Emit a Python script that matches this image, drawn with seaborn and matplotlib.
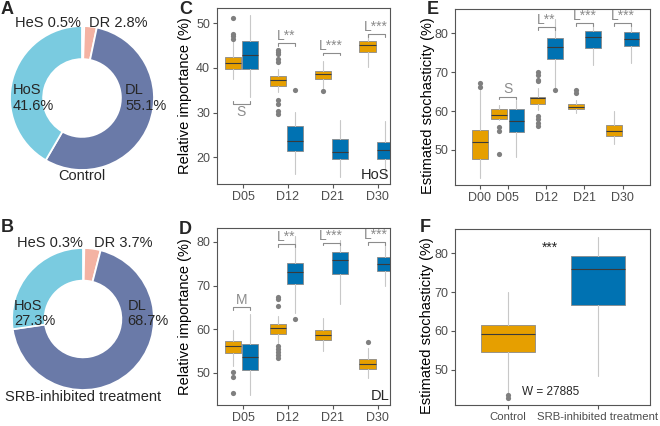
import matplotlib
matplotlib.use("Agg")
import numpy as np
import pandas as pd
import seaborn as sns
import matplotlib.pyplot as plt

# ---- data ----
parts = ["HeS", "DR", "DL", "HoS"]
part_colors = ["#F9D6CC", "#F4B3A3", "#6A7AA8", "#7ACBE0"]
control_share = [0.5, 2.8, 55.1, 41.6]
srb_share = [0.3, 3.7, 68.7, 27.3]

# boxes: [whisker low, q1, median, q3, whisker high]
imp_days = ["D05", "D12", "D21", "D30"]
hos_ctrl = [[37.4, 39.8, 41.1, 42.4, 46.0], [34.5, 36.0, 37.2, 38.2, 39.8],
            [35.5, 37.5, 38.7, 39.4, 41.6], [40.1, 43.5, 45.1, 46.1, 47.6]]
hos_ctrl_out = [[51.2, 47.6, 47.2, 46.5],
                [44.0, 43.5, 43.0, 42.0, 41.4, 32.7, 31.9, 30.4, 29.7], [34.8], []]
hos_srb = [[33.4, 39.8, 42.8, 46.0, 51.9], [16.3, 21.3, 23.6, 26.9, 30.1],
           [15.5, 19.6, 21.1, 24.0, 28.4], [15.5, 19.6, 21.5, 23.5, 28.2]]
hos_srb_out = [[], [35.1], [], []]
hos_sig = ["S", "L**", "L***", "L***"]

dl_ctrl = [[51.5, 54.6, 56.1, 57.3, 59.9], [56.9, 59.0, 60.2, 61.2, 63.0],
           [55.0, 57.6, 58.7, 59.9, 62.6], [48.7, 50.8, 52.1, 53.1, 55.7]]
dl_ctrl_out = [[50.2, 49.0, 45.4], [67.3, 66.8, 65.3, 56.1, 55.5, 54.7, 54.0, 53.4], [], [57.0]]
dl_srb = [[44.8, 50.6, 53.7, 56.6, 63.5], [63.7, 70.4, 73.1, 75.2, 81.3],
          [65.8, 72.7, 75.8, 77.7, 80.5], [69.8, 73.3, 75.0, 76.6, 79.5]]
dl_srb_out = [[], [62.4], [], []]
dl_sig = ["M", "L**", "L***", "L***"]

st_days = ["D00", "D05", "D12", "D21", "D30"]
st_ctrl = [[42.7, 47.6, 52.0, 55.0, 65.4], [57.7, 58.0, 59.0, 60.5, 61.6],
           [60.3, 61.7, 63.3, 63.7, 65.9], [59.4, 60.5, 61.1, 61.8, 62.9],
           [51.5, 53.6, 54.9, 56.3, 59.9]]
st_ctrl_out = [[67.1, 66.1], [56.0, 54.9, 48.9],
               [70.1, 69.3, 68.0, 67.6, 58.6, 58.0, 56.9, 56.2], [65.4, 64.7], []]
st_srb = [None, [48.3, 54.5, 57.5, 60.5, 62.9], [65.6, 73.3, 76.4, 78.7, 83.6],
          [71.9, 76.3, 78.9, 80.6, 82.1], [72.3, 76.7, 78.5, 80.4, 82.1]]
st_srb_out = [[], [], [65.3], [], []]
st_sig = [None, "S", "L**", "L***", "L***"]

groups = ["Control", "SRB-inhibited treatment"]
tr_stats = [[43.9, 54.5, 59.1, 61.5, 70.1], [48.4, 66.7, 76.1, 79.3, 84.3]]
tr_out = [[43.5, 42.6], []]
w_stat = 27885

ORANGE = "#E69F00"
BLUE = "#0072B2"
GREY_TXT = "#8C8C8C"

sns.set_theme(style="ticks")
plt.rcParams["font.family"] = ["Liberation Sans", "DejaVu Sans"]

W, H = 660, 426
fig = plt.figure(figsize=(W / 100, H / 100), dpi=100)


def px_axes(l, t, r, b):
    return fig.add_axes([l / W, 1 - b / H, (r - l) / W, (b - t) / H])


def donut(cx, cy, r, share, lab_pos, title, title_y):
    ax = px_axes(cx - 1.1 * r, cy - 1.1 * r, cx + 1.1 * r, cy + 1.1 * r)
    ax.pie(share, colors=part_colors, startangle=90, counterclock=False, radius=1,
           wedgeprops=dict(width=0.46, edgecolor="white", linewidth=1.3))
    ax.set_xlim(-1.1, 1.1)
    ax.set_ylim(-1.1, 1.1)
    ax.axis("off")
    (hx, hy), (dx, dy), (lx, ly), (ox, oy) = lab_pos
    kw = dict(fontsize=10.5, clip_on=False)
    ax.text(hx, hy, f"HeS {share[0]}%", ha="center", va="center", **kw)
    ax.text(dx, dy, f"DR {share[1]}%", ha="center", va="center", **kw)
    ax.text(lx, ly, f"DL\n{share[2]}%", ha="left", va="center", linespacing=1.1, **kw)
    ax.text(ox, oy, f"HoS\n{share[3]}%", ha="left", va="center", linespacing=1.1, **kw)
    ax.text(0, title_y, title, ha="center", va="center", **kw)


donut(82, 98, 72, control_share,
      [(-0.47, 1.04), (0.5, 1.04), (0.6, 0.0), (-0.96, 0.0)], "Control", -1.08)
donut(83, 319, 71, srb_share,
      [(-0.46, 1.07), (0.56, 1.07), (0.63, 0.08), (-0.97, 0.08)],
      "SRB-inhibited treatment", -1.1)


def style_axes(ax, ylim, xlim, ticks, ticklabels, ylabel):
    ax.set_ylim(*ylim)
    ax.set_xlim(*xlim)
    ax.set_xticks(ticks)
    ax.set_xticklabels(ticklabels)
    ax.set_yticks([20, 30, 40, 50] if ylim[1] < 60 else [50, 60, 70, 80])
    for s in ax.spines.values():
        s.set_visible(True)
        s.set_color("#555555")
        s.set_linewidth(0.8)
    ax.tick_params(length=3, width=0.8, color="#555555", labelcolor="#4D4D4D",
                   labelsize=9, pad=2)
    ax.set_xlabel("")
    ax.set_ylabel(ylabel, fontsize=10.5, color="black", labelpad=3)


def draw_boxes(ax, stats, pos, width, color, outliers):
    keep = [(s, p) for s, p in zip(stats, pos) if s is not None]
    st = [dict(whislo=s[0], q1=s[1], med=s[2], q3=s[3], whishi=s[4], fliers=[])
          for s, _ in keep]
    ax.bxp(st, positions=[p for _, p in keep], widths=width, patch_artist=True,
           showfliers=False, showcaps=False, manage_ticks=False,
           boxprops=dict(facecolor=color, edgecolor="#8A8A8A", linewidth=0.6),
           whiskerprops=dict(color="#C8C8C8", linewidth=0.8),
           medianprops=dict(color="#3A3A3A", linewidth=0.8))
    xs, ys = [], []
    for p, out in zip(pos, outliers):
        xs += [p] * len(out)
        ys += out
    if xs:
        sns.scatterplot(x=xs, y=ys, color="#7F7F7F", s=14, linewidth=0, ax=ax,
                        legend=False, zorder=3)


def bracket(ax, x1, x2, y, h, label, below=False):
    if below:
        ax.plot([x1, x1, x2, x2], [y + h, y, y, y + h], color=GREY_TXT, lw=0.8)
        ax.text((x1 + x2) / 2, y - h * 0.6, label, ha="center", va="top",
                color=GREY_TXT, fontsize=10)
    else:
        ax.plot([x1, x1, x2, x2], [y - h, y, y, y - h], color=GREY_TXT, lw=0.8)
        ax.text((x1 + x2) / 2, y + h * 0.05, label, ha="center", va="bottom",
                color=GREY_TXT, fontsize=10)


# ---- C and D: relative importance ----
imp_x = np.arange(len(imp_days))
for (l, t, r, b), ctrl, ctrl_out, srb, srb_out, sig, brk, ylim, name, letter in [
    ((217, 8, 390, 184), hos_ctrl, hos_ctrl_out, hos_srb, hos_srb_out, hos_sig,
     [32.0, 45.5, 43.4, 47.6], (14.0, 53.4), "HoS", "C"),
    ((217, 228, 390, 405), dl_ctrl, dl_ctrl_out, dl_srb, dl_srb_out, dl_sig,
     [65.0, 79.5, 79.8, 80.0], (42.6, 83.2), "DL", "D"),
]:
    ax = px_axes(l, t, r, b)
    xo, xb = imp_x - 0.23, imp_x + 0.15
    draw_boxes(ax, ctrl, xo, 0.36, ORANGE, ctrl_out)
    draw_boxes(ax, srb, xb, 0.36, BLUE, srb_out)
    for i, lab in enumerate(sig):
        bracket(ax, xo[i], xb[i], brk[i], 0.6, lab, below=(lab == "S"))
    style_axes(ax, ylim, (-0.58, 3.27), imp_x, imp_days, "Relative importance (%)")
    ax.text(0.995, 0.05, name, transform=ax.transAxes, ha="right", va="center",
            fontsize=10.5)
    fig.text((l - 38) / W, 1 - (t + 1) / H, letter, fontsize=13, fontweight="bold",
             ha="left", va="center")

fig.text(1 / W, 1 - 9 / H, "A", fontsize=13, fontweight="bold", ha="left", va="center")
fig.text(1 / W, 1 - 228 / H, "B", fontsize=13, fontweight="bold", ha="left", va="center")

# ---- E: stochasticity over time ----
ax = px_axes(455, 9, 650, 185)
st_x = np.array([0, 0.73, 1.73, 2.73, 3.73])
xo = st_x - 0.225
xo[0] = st_x[0]
xb = st_x + 0.225
draw_boxes(ax, st_ctrl, xo, 0.41, ORANGE, st_ctrl_out)
draw_boxes(ax, st_srb, xb, 0.41, BLUE, st_srb_out)
for i, (lab, y) in enumerate(zip(st_sig, [None, 63.7, 81.5, 82.6, 82.6])):
    if lab:
        bracket(ax, xo[i], xb[i], y, 0.7, lab)
style_axes(ax, (41.0, 86.2), (-0.65, 4.44), st_x, st_days, "Estimated stochasticity (%)")
ax.yaxis.set_label_coords(-0.105, 0.45)
fig.text(427 / W, 1 - 10 / H, "E", fontsize=13, fontweight="bold", ha="left", va="center")

# ---- F: overall ----
ax = px_axes(455, 229, 650, 405)
gx = np.arange(len(groups))
draw_boxes(ax, tr_stats, gx, 0.6, None, tr_out)
for patch, c in zip([p for p in ax.patches], [ORANGE, BLUE]):
    patch.set_facecolor(c)
style_axes(ax, (40.9, 86.3), (-0.59, 1.58), gx, groups, "Estimated stochasticity (%)")
ax.tick_params(axis="x", labelsize=8.2)
ax.yaxis.set_label_coords(-0.11, 0.45)
ax.text(0.47, 81.5, "***", ha="center", va="center", fontsize=10)
ax.text(0.47, 44.3, f"W = {w_stat}", ha="center", va="center", fontsize=8.5)
fig.text(420 / W, 1 - 228 / H, "F", fontsize=13, fontweight="bold", ha="left", va="center")

fig.savefig("out.png", dpi=100)
